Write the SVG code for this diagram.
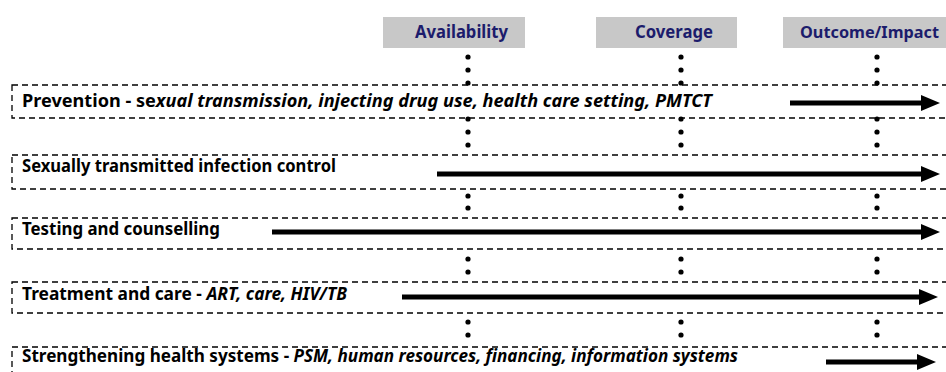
<svg xmlns="http://www.w3.org/2000/svg" width="946" height="372" viewBox="0 0 946 372">
<defs>
<style>
.hdr{fill:#c8c8c8}
.ht{font-family:"Noto Sans","Open Sans","Liberation Sans",sans-serif;font-weight:bold;font-size:17.5px;fill:#1c1c6c}
.band{fill:none;stroke:#000;stroke-width:1.3;stroke-dasharray:6 4}
.lbl{font-family:"Noto Sans","Open Sans","Liberation Sans",sans-serif;font-weight:bold;font-size:17.5px;fill:#000}
.it{font-style:italic}
.dot{fill:#000}
.arr{stroke:#000;stroke-width:5;fill:none}
.head{fill:#000}
</style>
</defs>
<g id="header-availability"><rect class="hdr" x="383" y="17" width="142" height="31"/><text class="ht" x="415" y="38" textLength="93" lengthAdjust="spacingAndGlyphs">Availability</text></g>
<g id="header-coverage"><rect class="hdr" x="596" y="17" width="141" height="31"/><text class="ht" x="635" y="38" textLength="78" lengthAdjust="spacingAndGlyphs">Coverage</text></g>
<g id="header-outcome"><rect class="hdr" x="783" y="17" width="163" height="31"/><text class="ht" x="800" y="38" style="font-size:16.5px" textLength="139" lengthAdjust="spacingAndGlyphs">Outcome/Impact</text></g>

<g id="dots">
<g id="dots-availability">
<circle class="dot" cx="468" cy="57" r="2.6"/><circle class="dot" cx="468" cy="70" r="2.6"/><circle class="dot" cx="468" cy="83" r="2.6"/>
<circle class="dot" cx="468" cy="119" r="2.6"/><circle class="dot" cx="468" cy="132" r="2.6"/><circle class="dot" cx="468" cy="145" r="2.6"/>
<circle class="dot" cx="468" cy="196" r="2.6"/><circle class="dot" cx="468" cy="208" r="2.6"/>
<circle class="dot" cx="468" cy="259" r="2.6"/><circle class="dot" cx="468" cy="272" r="2.6"/>
<circle class="dot" cx="468" cy="322" r="2.6"/><circle class="dot" cx="468" cy="335" r="2.6"/>
</g>
<g id="dots-coverage">
<circle class="dot" cx="681" cy="57" r="2.6"/><circle class="dot" cx="681" cy="70" r="2.6"/><circle class="dot" cx="681" cy="83" r="2.6"/>
<circle class="dot" cx="681" cy="119" r="2.6"/><circle class="dot" cx="681" cy="132" r="2.6"/><circle class="dot" cx="681" cy="145" r="2.6"/>
<circle class="dot" cx="681" cy="196" r="2.6"/><circle class="dot" cx="681" cy="208" r="2.6"/>
<circle class="dot" cx="681" cy="259" r="2.6"/><circle class="dot" cx="681" cy="272" r="2.6"/>
<circle class="dot" cx="681" cy="322" r="2.6"/><circle class="dot" cx="681" cy="335" r="2.6"/>
</g>
<g id="dots-outcome">
<circle class="dot" cx="877" cy="57" r="2.6"/><circle class="dot" cx="877" cy="70" r="2.6"/><circle class="dot" cx="877" cy="83" r="2.6"/>
<circle class="dot" cx="877" cy="119" r="2.6"/><circle class="dot" cx="877" cy="132" r="2.6"/><circle class="dot" cx="877" cy="145" r="2.6"/>
<circle class="dot" cx="877" cy="196" r="2.6"/><circle class="dot" cx="877" cy="208" r="2.6"/>
<circle class="dot" cx="877" cy="259" r="2.6"/><circle class="dot" cx="877" cy="272" r="2.6"/>
<circle class="dot" cx="877" cy="322" r="2.6"/><circle class="dot" cx="877" cy="335" r="2.6"/>
</g>
</g>

<g id="band-prevention"><rect class="band" x="12" y="85" width="950" height="33"/>
<text class="lbl" x="22" y="106.5" textLength="690" lengthAdjust="spacingAndGlyphs">Prevention - se<tspan class="it">xual transmission, injecting drug use, health care setting, PMTCT</tspan></text></g>
<g id="band-sti"><rect class="band" x="12" y="155" width="950" height="34"/>
<text class="lbl" x="22" y="172" textLength="314" lengthAdjust="spacingAndGlyphs">Sexually transmitted infection control</text></g>
<g id="band-testing"><rect class="band" x="12" y="218" width="950" height="31"/>
<text class="lbl" x="22" y="235" textLength="198" lengthAdjust="spacingAndGlyphs">Testing and counselling</text></g>
<g id="band-treatment"><rect class="band" x="12" y="282" width="950" height="31"/>
<text class="lbl" x="22" y="300" textLength="325" lengthAdjust="spacingAndGlyphs">Treatment and care - <tspan class="it">ART, care, HIV/TB</tspan></text></g>
<g id="band-strengthening"><rect class="band" x="12" y="347" width="950" height="40"/>
<text class="lbl" x="22" y="362" textLength="716" lengthAdjust="spacingAndGlyphs">Strengthening health systems - <tspan class="it">PSM, human resources, financing, information systems</tspan></text></g>

<g id="connectors">
<line class="arr" x1="790" y1="103" x2="924" y2="103"/><polygon class="head" points="921,95 940,103 921,111"/>
<line class="arr" x1="437" y1="174" x2="924" y2="174"/><polygon class="head" points="921,166 940,174 921,182"/>
<line class="arr" x1="272" y1="232" x2="924" y2="232"/><polygon class="head" points="921,224 940,232 921,240"/>
<line class="arr" x1="402" y1="297" x2="922" y2="297"/><polygon class="head" points="919,289 938,297 919,305"/>
<line class="arr" x1="826" y1="362" x2="920" y2="362"/><polygon class="head" points="917,354 936,362 917,370"/>
</g>
</svg>
